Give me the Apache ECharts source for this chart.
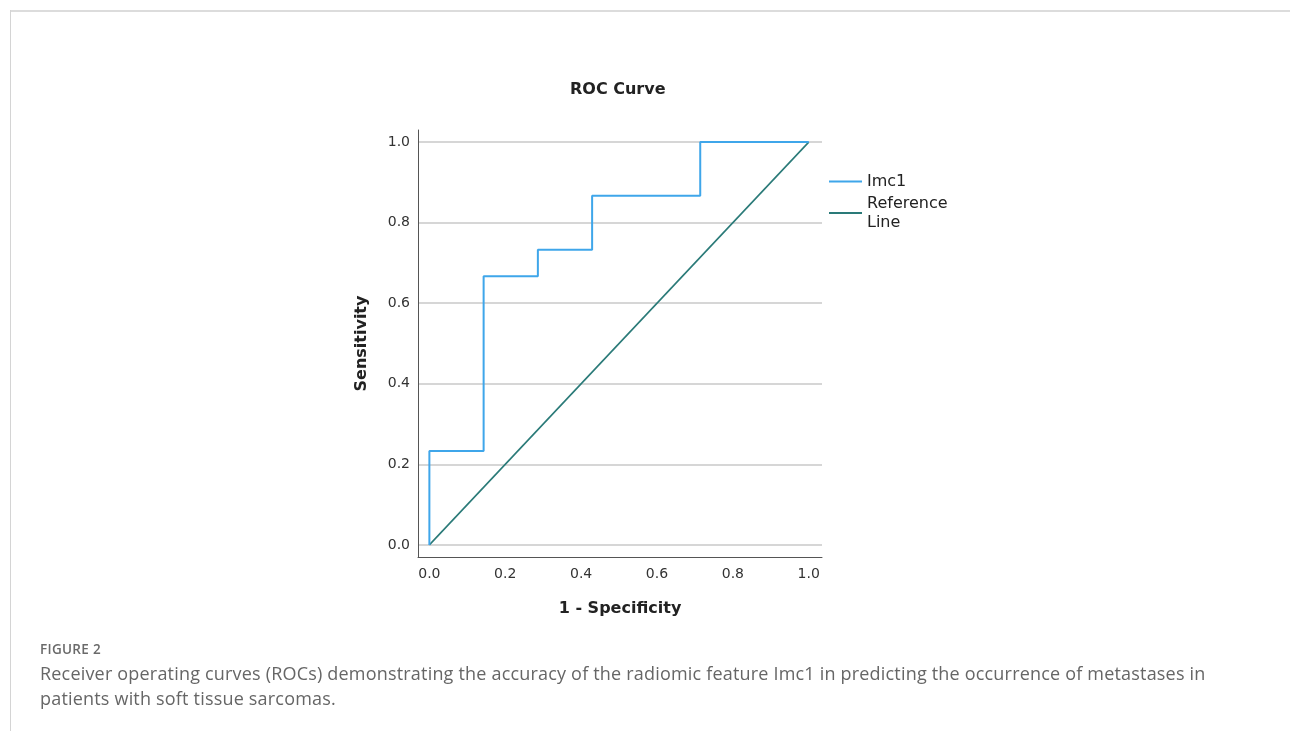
<!DOCTYPE html>
<html>
<head>
<meta charset="utf-8">
<script src="https://cdn.jsdelivr.net/npm/echarts@6/dist/echarts.min.js"></script>
<style>
  html, body { margin: 0; padding: 0; background: #fff; }
  #wrap { position: relative; width: 1290px; height: 731px; overflow: hidden; }
  #chart { position: absolute; left: 0; top: 0; width: 1290px; height: 731px; }
  #topline { position: absolute; left: 10px; top: 10px; width: 1280px; height: 2px; background: #dcdcdc; }
  #leftline { position: absolute; left: 10px; top: 10px; width: 1px; height: 721px; background: #d4d4d4; }
  #fig { position: absolute; left: 40px; top: 640px; font-family: "Open Sans", sans-serif; font-size: 13.5px; font-weight: 600; color: #6a6a6a; letter-spacing: 0.3px; }
  #cap { position: absolute; left: 40px; top: 661px; font-family: "Open Sans", sans-serif; font-size: 18px; line-height: 25px; color: #666; white-space: nowrap; letter-spacing: 0.19px; }
</style>
</head>
<body>
<div id="wrap">
  <div id="topline"></div>
  <div id="leftline"></div>
  <div id="chart"></div>
  <div id="fig">FIGURE 2</div>
  <div id="cap">Receiver operating curves (ROCs) demonstrating the accuracy of the radiomic feature Imc1 in predicting the occurrence of metastases in<br>patients with soft tissue sarcomas.</div>
</div>
<script>
// ROC curve corner points (1 - specificity, sensitivity)
const imc1FPR = [0, 0, 0.143, 0.143, 0.286, 0.286, 0.429, 0.429, 0.714, 0.714, 1.0];
const imc1TPR = [0, 0.233, 0.233, 0.667, 0.667, 0.733, 0.733, 0.867, 0.867, 1.0, 1.0];
const refX = [0, 1];
const refY = [0, 1];
const tickValues = [0, 0.2, 0.4, 0.6, 0.8, 1.0];
const seriesNames = ['Imc1', 'Reference\nLine'];

const chart = echarts.init(document.getElementById('chart'));
const txtFont = '"DejaVu Sans", Verdana, sans-serif';
chart.setOption({
  animation: false,
  title: {
    text: 'ROC Curve',
    left: 570, top: 82, padding: 0,
    textStyle: { fontFamily: txtFont, fontSize: 16, fontWeight: 'bold', color: '#222' }
  },
  legend: {
    orient: 'vertical',
    left: 829, top: 172, padding: 0,
    icon: 'rect',
    itemWidth: 33, itemHeight: 2, itemGap: 3,
    data: seriesNames,
    textStyle: { fontFamily: txtFont, fontSize: 16, lineHeight: 19, color: '#222' }
  },
  grid: { left: 418, right: 468, top: 130, bottom: 174 },
  xAxis: {
    type: 'value', min: -0.03, max: 1.035,
    name: '1 - Specificity', nameLocation: 'middle', nameGap: 44,
    nameTextStyle: { fontFamily: txtFont, fontSize: 16, fontWeight: 'bold', color: '#222' },
    axisLine: { show: true, onZero: false, lineStyle: { color: '#555', width: 1 } },
    axisTick: { show: false, customValues: tickValues },
    axisLabel: { customValues: tickValues, margin: 10, fontFamily: txtFont, fontSize: 14, color: '#333',
      formatter: v => v.toFixed(1) },
    splitLine: { show: false }
  },
  yAxis: {
    type: 'value', min: -0.03, max: 1.03,
    name: 'Sensitivity', nameLocation: 'middle', nameGap: 48,
    nameTextStyle: { fontFamily: txtFont, fontSize: 16, fontWeight: 'bold', color: '#222' },
    axisLine: { show: true, onZero: false, lineStyle: { color: '#555', width: 1 } },
    axisTick: { show: false, customValues: tickValues },
    axisLabel: { customValues: tickValues, margin: 8, fontFamily: txtFont, fontSize: 14, color: '#333',
      padding: [9, 0, 0, 0], formatter: v => v.toFixed(1) },
    splitLine: { show: true, lineStyle: { color: '#c8c8c8', width: 1.5 } }
  },
  series: [
    {
      name: seriesNames[0], type: 'line', symbol: 'none', z: 3,
      data: imc1FPR.map((x, i) => [x, imc1TPR[i]]),
      lineStyle: { color: '#3fa6ea', width: 2 }, itemStyle: { color: '#3fa6ea' }
    },
    {
      name: seriesNames[1], type: 'line', symbol: 'none', z: 2,
      data: refX.map((x, i) => [x, refY[i]]),
      lineStyle: { color: '#2a7a78', width: 1.6 }, itemStyle: { color: '#2a7a78' }
    }
  ]
});
</script>
</body>
</html>
